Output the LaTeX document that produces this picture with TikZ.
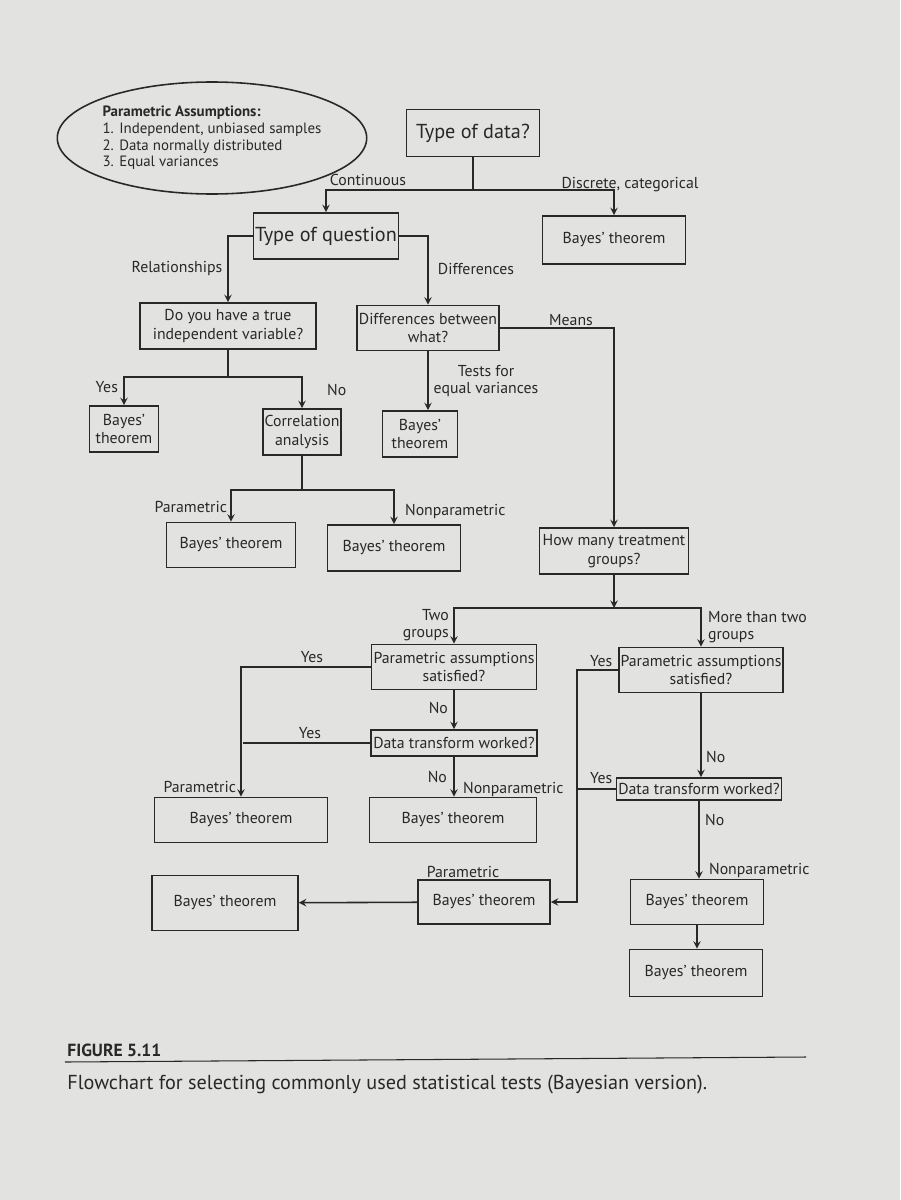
\documentclass[tikz,border=0pt]{standalone}
\usepackage{fontspec}
\setmainfont{PT Sans}
\usetikzlibrary{shapes.geometric}
\definecolor{page}{RGB}{226,227,224}
\definecolor{ink}{RGB}{40,40,40}
\tikzset{
  box/.style={draw=ink, line width=0.9pt, rectangle, align=center, font=\fontsize{9}{10.5}\selectfont, inner sep=1pt},
  sz/.style 2 args={minimum width=#1*0.02cm, minimum height=#2*0.02cm},
  lbl/.style={font=\fontsize{9}{10}\selectfont, text=ink, inner sep=1pt, align=left},
  line/.style={draw=ink, line width=0.9pt},
  arr/.style={line, ->, >=stealth},
}
\begin{document}
\begin{tikzpicture}[x=0.02cm, y=-0.02cm, text=ink]
			\fill[page] (0,0) rectangle (900,1200);
			\useasboundingbox (0,0) rectangle (900,1200);
			% assumptions
			\node[draw=ink, line width=0.9pt, ellipse, sz={226}{112}, inner sep=0pt, align=left, font=\fontsize{8.5}{9.5}\selectfont] (ASS) at (212,138) {\textbf{Parametric Assumptions:}\\1. Independent, unbiased samples\\2. Data normally distributed\\3. Equal variances};
			% top
			\node[box, sz={133}{47}, font=\fontsize{11.5}{13}\selectfont] (TD) at (473,133) {Type of data?};
			\node[box, sz={137}{46}, font=\fontsize{11.5}{13}\selectfont] (TQ) at (326,236) {Type of question};
			\node[box, sz={143}{48}] (B1) at (614,240) {Bayes' theorem};
			\node[box, sz={176}{46}] (DY) at (228,326) {Do you have a true\\independent variable?};
			\node[box, sz={139}{45}] (DB) at (428,328) {Differences between\\what?};
			\node[box, sz={69}{46}] (B2) at (124,429) {Bayes'\\theorem};
			\node[box, sz={72}{46}] (CA) at (302,432) {Correlation\\analysis};
			\node[box, sz={75}{46}] (B3) at (420,434) {Bayes'\\theorem};
			\node[box, sz={129}{45}] (B4) at (231,545) {Bayes' theorem};
			\node[box, sz={133}{46}] (B5) at (394,548) {Bayes' theorem};
			\node[box, sz={149}{46}] (HM) at (614,551) {How many treatment\\groups?};
			% two groups side
			\node[box, sz={165}{45}] (PL) at (454,667) {Parametric assumptions\\satisfied?};
			\node[box, sz={166}{26}] (TL) at (454,743) {Data transform worked?};
			\node[box, sz={173}{45}] (B6) at (241,820) {Bayes' theorem};
			\node[box, sz={167}{45}] (B7) at (453,820) {Bayes' theorem};
			\node[box, sz={146}{55}] (B8) at (225,903) {Bayes' theorem};
			\node[box, sz={132}{44}] (B9) at (484,902) {Bayes' theorem};
			% more than two side
			\node[box, sz={164}{45}] (PR) at (701,670) {Parametric assumptions\\satisfied?};
			\node[box, sz={165}{22}] (TR) at (699,789) {Data transform worked?};
			\node[box, sz={133}{45}] (B10) at (697,902) {Bayes' theorem};
			\node[box, sz={133}{47}] (B11) at (696,973) {Bayes' theorem};
			% junctions
			\coordinate (J1) at (473,190);
			\coordinate (J2) at (228,377);
			\coordinate (J3) at (302,490);
			\coordinate (J4) at (614,608);
			\coordinate (J5) at (243,743);
			\coordinate (J6) at (577,789);
			% connectors
			\draw[line] (TD) -- (J1);
			\draw[arr] (J1) -| (TQ);
			\draw[arr] (J1) -| (B1);
			\draw[arr] (TQ.west) -| (DY);
			\draw[arr] (TQ.east) -| (DB);
			\draw[line] (DY) -- (J2);
			\draw[arr] (J2) -| (B2);
			\draw[arr] (J2) -| (CA);
			\draw[arr] (DB.south) -- (DB.south |- B3.north);
			\draw[arr] (DB.east) -| (HM);
			\draw[line] (CA) -- (J3);
			\draw[arr] (J3) -| (B4);
			\draw[arr] (J3) -| (B5);
			\draw[arr] (HM) -- (J4);
			\draw[arr] (J4) -| (PL);
			\draw[arr] (J4) -| (PR);
			\draw[arr] (PL.west) -| (B6);
			\draw[arr] (PL) -- (TL);
			\draw[line] (TL) -- (J5);
			\draw[arr] (TL.south) -- (TL.south |- B7.north);
			\draw[arr] (B9) -- (B8);
			\draw[arr] (PR.west) -| (J6) |- (B9);
			\draw[line] (TR) -- (J6);
			\draw[arr] (PR.south) -- (PR.south |- TR.north);
			\draw[arr] (TR.south) -- (TR.south |- B10.north);
			\draw[arr] (B10.south) -- (B10.south |- B11.north);
			% labels
			\node[lbl] (LC) at (368,180) {Continuous};
			\node[lbl] (LD) at (630,185) {Discrete, categorical};
			\node[lbl] (LR) at (177,268) {Relationships};
			\node[lbl] (LDi) at (476,269) {Differences};
			\node[lbl] (LM) at (571,320) {Means};
			\node[lbl, anchor=east] (LY1) at (120,387) {Yes};
			\node[lbl, anchor=west] (LN1) at (325,390) {No};
			\node[lbl, align=center] (LT) at (486,381) {Tests for\\equal variances};
			\node[lbl, anchor=east] (LP1) at (229,507) {Parametric};
			\node[lbl, anchor=west] (LN2) at (403,511) {Nonparametric};
			\node[lbl, align=right, anchor=east] (LTG) at (451,625) {Two\\groups};
			\node[lbl, anchor=west] (LMT) at (706,627) {More than two\\groups};
			\node[lbl] (LY2) at (312,657) {Yes};
			\node[lbl, anchor=east] (LN3) at (450,708) {No};
			\node[lbl] (LY3) at (310,733) {Yes};
			\node[lbl, anchor=east] (LN4) at (449,777) {No};
			\node[lbl, anchor=west] (LNP) at (461,789) {Nonparametric};
			\node[lbl, anchor=east] (LP2) at (238,787) {Parametric};
			\node[lbl, anchor=west] (LY4) at (588,661) {Yes};
			\node[lbl, anchor=west] (LY5) at (588,778) {Yes};
			\node[lbl, anchor=west] (LN5) at (704,757) {No};
			\node[lbl, anchor=west] (LN6) at (703,820) {No};
			\node[lbl, anchor=west] (LNP2) at (707,870) {Nonparametric};
			\node[lbl] (LP3) at (463,872) {Parametric};
			% caption
			\node[anchor=west, font=\bfseries\fontsize{10}{12}\selectfont, inner sep=0pt] (FIG) at (67,1050) {FIGURE 5.11};
			\draw[ink, line width=0.6pt] (65,1062) -- (806,1057);
			\node[anchor=west, font=\fontsize{11.5}{13}\rmfamily\selectfont, inner sep=0pt] (CAP) at (67,1085) {Flowchart for selecting commonly used statistical tests (Bayesian version).};
		\end{tikzpicture}
\end{document}
